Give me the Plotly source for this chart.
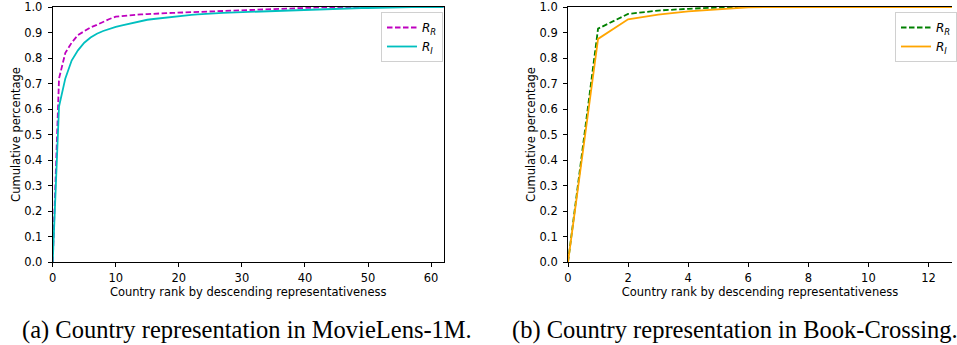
import plotly.graph_objects as go

# ---- data ----
ml_rank = list(range(63))
ml_RR = [0.0, 0.72, 0.82, 0.86, 0.89, 0.905, 0.92, 0.93, 0.942, 0.953,
         0.962, 0.965, 0.967, 0.969, 0.971, 0.972, 0.974, 0.975, 0.976, 0.977,
         0.978, 0.979, 0.980, 0.981, 0.982, 0.983, 0.984, 0.985, 0.986, 0.987,
         0.988, 0.989, 0.990, 0.991, 0.992, 0.993, 0.994, 0.995, 0.995, 0.996,
         0.997, 0.998, 0.998, 0.999, 0.999, 1.0, 1.0, 1.0, 1.0, 1.0,
         1.0, 1.0, 1.0, 1.0, 1.0, 1.0, 1.0, 1.0, 1.0, 1.0,
         1.0, 1.0, 1.0]
ml_RI = [0.0, 0.61, 0.72, 0.79, 0.83, 0.86, 0.88, 0.895, 0.906, 0.915,
         0.922, 0.928, 0.934, 0.94, 0.945, 0.95, 0.953, 0.956, 0.959, 0.962,
         0.965, 0.967, 0.969, 0.971, 0.973, 0.974, 0.975, 0.977, 0.978, 0.979,
         0.980, 0.981, 0.982, 0.983, 0.984, 0.985, 0.986, 0.987, 0.988, 0.989,
         0.990, 0.991, 0.991, 0.992, 0.993, 0.993, 0.994, 0.995, 0.995, 0.996,
         0.996, 0.997, 0.997, 0.998, 0.998, 0.999, 0.999, 1.0, 1.0, 1.0,
         1.0, 1.0, 1.0]
bx_rank = list(range(14))
bx_RR = [0.0, 0.915, 0.973, 0.986, 0.993, 0.998, 1.0, 1.0, 1.0, 1.0, 1.0, 1.0, 1.0, 1.0]
bx_RI = [0.0, 0.875, 0.952, 0.970, 0.983, 0.992, 0.999, 1.0, 1.0, 1.0, 1.0, 1.0, 1.0, 1.0]

ml_xticks = [0, 10, 20, 30, 40, 50, 60]
bx_xticks = [0, 2, 4, 6, 8, 10, 12]
yticks = [0.0, 0.1, 0.2, 0.3, 0.4, 0.5, 0.6, 0.7, 0.8, 0.9, 1.0]
ytick_text = ["%.1f" % v for v in yticks]

name_R = "<i>R</i><sub><i>R</i></sub>"
name_I = "<i>R</i><sub><i>I</i></sub>"
x_title = "Country rank by descending representativeness"
y_title = "Cumulative percentage"
caption_a = "(a) Country representation in MovieLens-1M."
caption_b = "(b) Country representation in Book-Crossing."

W, H = 957, 345
tick_font = dict(family="DejaVu Sans", size=11.5, color="black")
title_font = dict(family="DejaVu Sans", size=11.5, color="black")

fig = go.Figure()
fig.add_trace(go.Scatter(x=ml_rank, y=ml_RR, mode="lines", name=name_R,
                         line=dict(color="#bf00bf", width=1.8, dash="5.5px,2.5px"),
                         xaxis="x", yaxis="y", legend="legend"))
fig.add_trace(go.Scatter(x=ml_rank, y=ml_RI, mode="lines", name=name_I,
                         line=dict(color="#00bfbf", width=1.8),
                         xaxis="x", yaxis="y", legend="legend"))
fig.add_trace(go.Scatter(x=bx_rank, y=bx_RR, mode="lines", name=name_R,
                         line=dict(color="#008000", width=1.8, dash="5.5px,2.5px"),
                         xaxis="x2", yaxis="y2", legend="legend2"))
fig.add_trace(go.Scatter(x=bx_rank, y=bx_RI, mode="lines", name=name_I,
                         line=dict(color="#ffa500", width=1.8),
                         xaxis="x2", yaxis="y2", legend="legend2"))

ybot = (H - 262) / H
ytop = (H - 7) / H

common_x = dict(showline=True, linecolor="black", linewidth=1, ticks="outside",
                ticklen=4, tickcolor="black", tickwidth=1, showgrid=False,
                zeroline=False, tickfont=tick_font, ticklabelstandoff=1,
                automargin=False,
                title=dict(text=x_title, font=title_font, standoff=2))
common_y = dict(showline=True, linecolor="black", linewidth=1, ticks="outside",
                ticklen=4, tickcolor="black", tickwidth=1, showgrid=False,
                zeroline=False, tickfont=tick_font, range=[0, 1.0],
                tickvals=yticks, ticktext=ytick_text, ticklabelstandoff=3,
                automargin=False,
                title=dict(text=y_title, font=title_font, standoff=1))

fig.update_layout(
    width=W, height=H, margin=dict(l=0, r=0, t=0, b=0),
    paper_bgcolor="white", plot_bgcolor="white",
    xaxis=dict(domain=[53 / W, 446 / W], range=[0, 62], tickvals=ml_xticks,
               mirror=True, anchor="y", **common_x),
    yaxis=dict(domain=[ybot, ytop], mirror=True, anchor="x", **common_y),
    xaxis2=dict(domain=[571 / W, 1.0], range=[0, 386 / 30.2], tickvals=bx_xticks,
                mirror=True, anchor="y2", **common_x),
    yaxis2=dict(domain=[ybot, ytop], mirror=False, anchor="x2", **common_y),
    legend=dict(x=383 / W, xanchor="left", y=(H - 12) / H, yanchor="top",
                bgcolor="rgba(255,255,255,0.8)", bordercolor="#d0d0d0",
                borderwidth=1, font=dict(family="DejaVu Sans", size=12, color="black"),
                itemwidth=30, tracegroupgap=0),
    legend2=dict(x=900 / W, xanchor="left", y=(H - 12) / H, yanchor="top",
                 bgcolor="rgba(255,255,255,0.8)", bordercolor="#d0d0d0",
                 borderwidth=1, font=dict(family="DejaVu Sans", size=12, color="black"),
                 itemwidth=30, tracegroupgap=0),
    annotations=[
        dict(text=caption_a, x=20 / W, y=(H - 330) / H, xref="paper", yref="paper",
             xanchor="left", yanchor="middle", showarrow=False,
             font=dict(family="Liberation Serif", size=24.5, color="black")),
        dict(text=caption_b, x=513 / W, y=(H - 330) / H, xref="paper", yref="paper",
             xanchor="left", yanchor="middle", showarrow=False,
             font=dict(family="Liberation Serif", size=24.5, color="black")),
    ],
)

fig.write_html("out.html", config={"displayModeBar": False},
               post_script="document.body.style.margin='0';document.body.style.overflow='hidden';")
